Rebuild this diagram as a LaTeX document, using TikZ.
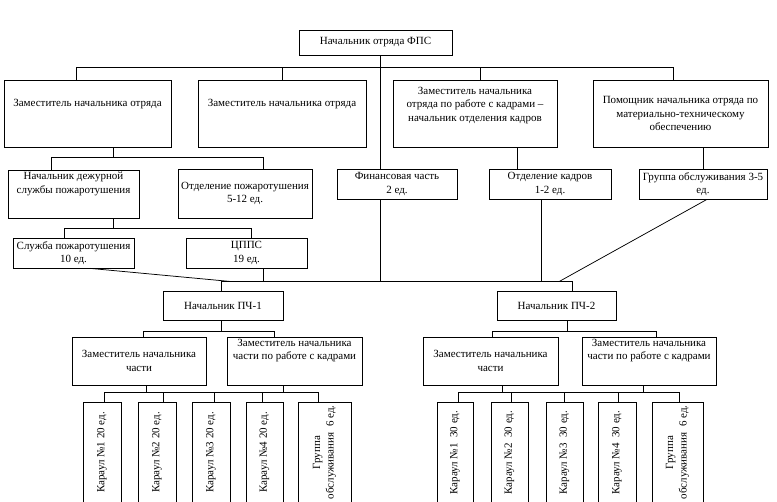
\documentclass[tikz,border=0pt]{standalone}
\usepackage{fontspec}
\setmainfont{Liberation Serif}
\tikzstyle{orgbox} = [rectangle, draw=black, line width=0.75pt, align=center, inner xsep=1pt, inner ysep=1pt, font=\fontsize{11}{13.5}\selectfont]
\tikzstyle{guardbox} = [orgbox, rotate=90, minimum width=101pt]
\tikzstyle{link} = [line width=0.75pt]

\begin{document}
\begin{tikzpicture}[x=1pt, y=-1pt]
\useasboundingbox (0,0) rectangle (777,502);
% руководство отряда
\node (top) [orgbox, minimum width=153pt, minimum height=25pt] at (375.5,42.5) {Начальник отряда ФПС};
\node (zam1) [orgbox, minimum width=167pt, minimum height=67pt] at (87.5,113.5) {Заместитель начальника отряда\\[8pt]\mbox{}};
\node (zam2) [orgbox, minimum width=168pt, minimum height=67pt] at (282,113.5) {Заместитель начальника отряда\\[8pt]\mbox{}};
\node (zam3) [orgbox, minimum width=164pt, minimum height=67pt] at (475,113.5) {Заместитель начальника\\отряда по работе с кадрами –\\начальник отделения кадров\\[5pt]\mbox{}};
\node (pom4) [orgbox, minimum width=175pt, minimum height=67pt] at (680.5,113.5) {Помощник начальника отряда по\\материально-техническому\\обеспечению};
% службы
\node (dezh) [orgbox, minimum width=131pt, minimum height=48pt] at (73.5,194) {Начальник дежурной\\службы пожаротушения\\[9pt]\mbox{}};
\node (otdp) [orgbox, minimum width=134pt, minimum height=49pt] at (245,193.5) {Отделение пожаротушения\\5-12 ед.};
\node (fin) [orgbox, minimum width=120pt, minimum height=30pt] at (397,184) {Финансовая часть\\2 ед.};
\node (kadr) [orgbox, minimum width=122pt, minimum height=30pt] at (550,184) {Отделение кадров\\1-2 ед.};
\node (grp) [orgbox, minimum width=128pt, minimum height=30pt] at (703,184) {Группа обслуживания 3-5\\ед.};
\node (slp) [orgbox, minimum width=121pt, minimum height=30pt] at (73.5,253) {Служба пожаротушения\\10 ед.};
\node (cpps) [orgbox, minimum width=121pt, minimum height=30pt] at (246.5,253) {ЦППС\\19 ед.};
% пожарные части
\node (pch1) [orgbox, minimum width=120pt, minimum height=29pt] at (223,305.5) {Начальник ПЧ-1};
\node (pch2) [orgbox, minimum width=119pt, minimum height=29pt] at (556.5,305.5) {Начальник ПЧ-2};
\node (zch1) [orgbox, minimum width=134pt, minimum height=48pt] at (139,361) {Заместитель начальника\\части};
\node (zkch1) [orgbox, minimum width=135pt, minimum height=48pt] at (294.5,361) {Заместитель начальника\\части по работе с кадрами\\[10pt]\mbox{}};
\node (zch2) [orgbox, minimum width=135pt, minimum height=48pt] at (490.5,361) {Заместитель начальника\\части};
\node (zkch2) [orgbox, minimum width=134pt, minimum height=48pt] at (649,361) {Заместитель начальника\\части по работе с кадрами\\[10pt]\mbox{}};
% караулы
\node (k11) [guardbox, minimum height=38pt] at (102,452.5) {Караул №1 20 ед.};
\node (k12) [guardbox, minimum height=38pt] at (157,452.5) {Караул №2 20 ед.};
\node (k13) [guardbox, minimum height=38pt] at (211,452.5) {Караул №3 20 ед.};
\node (k14) [guardbox, minimum height=37pt] at (264.5,452.5) {Караул №4 20 ед.};
\node (g1) [guardbox, minimum height=53pt] at (324.5,452.5) {Группа\\обслуживания\ \ 6 ед.};
\node (k21) [guardbox, minimum height=36pt] at (455,452.5) {Караул №1\ \ 30 ед.};
\node (k22) [guardbox, minimum height=37pt] at (509.5,452.5) {Караул №2\ \ 30 ед.};
\node (k23) [guardbox, minimum height=37pt] at (564.5,452.5) {Караул №3\ \ 30 ед.};
\node (k24) [guardbox, minimum height=38pt] at (617,452.5) {Караул №4\ \ 30 ед.};
\node (g2) [guardbox, minimum height=51pt] at (677.5,452.5) {Группа\\обслуживания\ \ 6 ед.};

% связи отряда
\draw [link] ([xshift=4.5pt]top.south) -- ([xshift=-17pt]fin.north);
\draw [link] ([xshift=-11.5pt]zam1.north) -- ++(0,-12) -| ([xshift=-7.5pt]pom4.north);
\draw [link] (zam2.north) -- ++(0,-12);
\draw [link] ([xshift=5pt]zam3.north) -- ++(0,-12);
\draw [link] ([xshift=42pt]zam3.south) -- ([xshift=-33pt]kadr.north);
\draw [link] ([xshift=22.5pt]pom4.south) -- (grp.north);
\draw [link] ([xshift=25.5pt]zam1.south) -- ++(0,11);
\draw [link] ([xshift=-22.5pt]dezh.north) -- ++(0,-12) -| ([xshift=18pt]otdp.north);
\draw [link] ([xshift=39.5pt]dezh.south) -- ++(0,11);
\draw [link] ([xshift=-9.5pt]slp.north) -- ++(0,-9) -| ([xshift=4.5pt]cpps.north);
% к пожарным частям
\draw [link] ([xshift=-17pt]fin.south) -- ++(0,83);
\draw [link] ([xshift=-9pt]kadr.south) -- ++(0,83);
\draw [link] ([xshift=16.5pt]cpps.south) -- ++(0,14);
\draw [link] ([xshift=-2pt]pch1.north) -- ++(0,-9) -| ([xshift=15.5pt]pch2.north);
\draw [link] ([xshift=16.5pt]slp.south) -- ([xshift=9pt,yshift=9pt]pch1.north);
\draw [link] ([xshift=4pt]grp.south) -- ([xshift=2.5pt,yshift=9pt]pch2.north);
% ПЧ-1
\draw [link] ([xshift=-2pt]pch1.south) -- ++(0,12);
\draw [link] ([xshift=4pt]zch1.north) -- ++(0,-5) -| ([xshift=-20.5pt]zkch1.north);
\draw [link] ([xshift=7pt]zch1.south) -- ++(0,8);
\draw [link] ([xshift=-11.5pt]zkch1.south) -- ++(0,8);
\draw [link] ([xshift=2pt]k11.east) -- ++(0,-9) -| ([xshift=-6.5pt]g1.east);
\draw [link] ([xshift=6pt]k12.east) -- ++(0,-9);
\draw [link] ([xshift=3pt]k13.east) -- ++(0,-9);
\draw [link] ([xshift=-2.5pt]k14.east) -- ++(0,-9);
% ПЧ-2
\draw [link] ([xshift=10.5pt]pch2.south) -- ++(0,12);
\draw [link] ([xshift=1.5pt]zch2.north) -- ++(0,-5) -| ([xshift=7pt]zkch2.north);
\draw [link] ([xshift=11.5pt]zch2.south) -- ++(0,8);
\draw [link] ([xshift=-6pt]zkch2.south) -- ++(0,8);
\draw [link] ([xshift=3pt]k21.east) -- ++(0,-9) -| ([xshift=1.5pt]g2.east);
\draw [link] ([xshift=1.5pt]k22.east) -- ++(0,-9);
\draw [link] (k23.east) -- ++(0,-9);
\draw [link] ([xshift=1pt]k24.east) -- ++(0,-9);
\end{tikzpicture}
\end{document}
